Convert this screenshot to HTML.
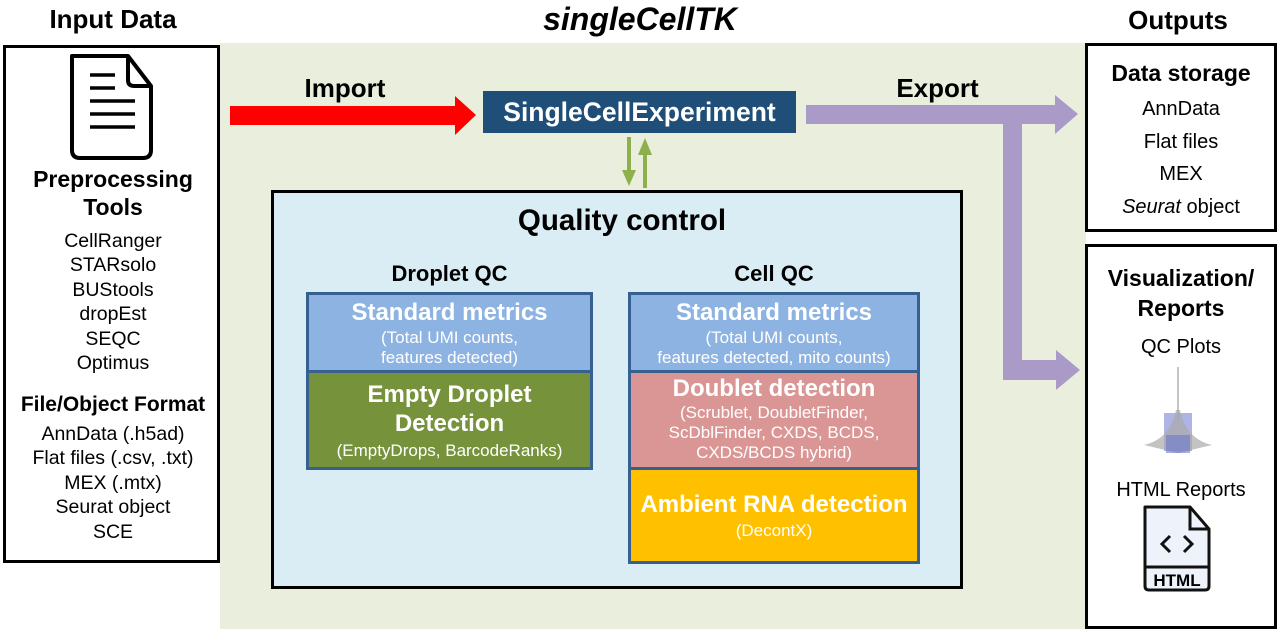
<!DOCTYPE html>
<html><head><meta charset="utf-8"><style>
body{margin:0;width:1280px;height:639px;background:#fff;position:relative;overflow:hidden;font-family:"Liberation Sans",Arial,sans-serif;}
.a{position:absolute;}
.t{position:absolute;text-align:center;white-space:nowrap;}
.b{font-weight:bold;}
.box{position:absolute;box-sizing:border-box;}
.w{color:#fff;}
</style></head><body>
<div class="a" style="left:220px;top:43px;width:866px;height:586px;background:#e9efdc"></div>

<div class="t b" style="left:3px;width:220px;top:4px;font-size:26px">Input Data</div>
<div class="t b" style="left:440px;width:400px;top:1px;font-size:32px;font-style:italic">singleCellTK</div>
<div class="t b" style="left:1082px;width:192px;top:5px;font-size:26px">Outputs</div>

<!-- input box -->
<div class="box" style="left:3px;top:45px;width:217px;height:518px;border:3px solid #000;background:#fff"></div>
<svg class="a" style="left:65px;top:50px" width="110" height="115">
<path d="M7 6 H63 L86 36 V100 Q86 108 78 108 H15 Q7 108 7 100 Z" fill="none" stroke="#000" stroke-width="4" stroke-linejoin="round"/>
<path d="M63 6 V30 Q63 36 69 36 H86" fill="none" stroke="#000" stroke-width="4"/>
<g stroke="#000" stroke-width="3.5"><line x1="25" y1="25" x2="50" y2="25"/><line x1="25" y1="38" x2="50" y2="38"/><line x1="25" y1="51" x2="70" y2="51"/><line x1="25" y1="64" x2="70" y2="64"/><line x1="25" y1="77" x2="70" y2="77"/></g>
</svg>
<div class="t b" style="left:3px;width:220px;top:165px;font-size:23px;line-height:28px">Preprocessing<br>Tools</div>
<div class="t" style="left:3px;width:220px;top:229px;font-size:19.5px;line-height:24.4px">CellRanger<br>STARsolo<br>BUStools<br>dropEst<br>SEQC<br>Optimus</div>
<div class="t b" style="left:3px;width:220px;top:393px;font-size:21px">File/Object Format</div>
<div class="t" style="left:3px;width:220px;top:422px;font-size:19.5px;line-height:24.4px">AnnData (.h5ad)<br>Flat files (.csv, .txt)<br>MEX (.mtx)<br>Seurat object<br>SCE</div>

<svg class="a" style="left:0;top:0" width="1280" height="639">
<polygon points="230,106 455,106 455,96 476,115 455,135 455,125 230,125" fill="#f00"/>
<g fill="#a99ac8">
<polygon points="806,105 1055,105 1055,95 1078,114 1055,134 1055,124 806,124"/>
<rect x="1003" y="105" width="19" height="275"/>
<polygon points="1003,360 1056,360 1056,350 1080,370 1056,390 1056,380 1003,380"/>
</g>
<g fill="#8db04c">
<rect x="627" y="137" width="4" height="36"/><polygon points="622,170 636,170 629,186"/>
<rect x="643" y="152" width="4" height="36"/><polygon points="638,155 652,155 645,138"/>
</g>
</svg>
<div class="t b" style="left:290px;width:110px;top:73px;font-size:26px">Import</div>
<div class="t b" style="left:880px;width:115px;top:73px;font-size:26px">Export</div>
<div class="box t b w" style="left:483px;top:91px;width:313px;height:42px;background:#1f4e79;font-size:26.5px;line-height:42px">SingleCellExperiment</div>

<!-- QC -->
<div class="box" style="left:271px;top:190px;width:692px;height:399px;border:3px solid #000;background:#daedf4"></div>
<div class="t b" style="left:276px;width:692px;top:204px;font-size:29.5px">Quality control</div>
<div class="t b" style="left:306px;width:287px;top:261px;font-size:22px">Droplet QC</div>
<div class="t b" style="left:628px;width:292px;top:261px;font-size:22px">Cell QC</div>

<div class="box w" style="left:306px;top:292px;width:287px;height:178px;border:3px solid #36608f;background:#76933c"></div>
<div class="box t w" style="left:309px;top:295px;width:281px;height:78px;background:#8db3e2;border-bottom:3px solid #36608f">
<div class="b" style="font-size:24px;margin-top:4px">Standard metrics</div>
<div style="font-size:17px;line-height:20px;margin-top:1px">(Total UMI counts,<br>features detected)</div></div>
<div class="t w" style="left:309px;top:380px;width:281px">
<div class="b" style="font-size:24px;line-height:29px">Empty Droplet<br>Detection</div>
<div style="font-size:17px;margin-top:3px">(EmptyDrops, BarcodeRanks)</div></div>

<div class="box" style="left:628px;top:292px;width:292px;height:272px;border:3px solid #36608f;background:#ffc000"></div>
<div class="box t w" style="left:631px;top:295px;width:286px;height:78px;background:#8db3e2;border-bottom:3px solid #36608f">
<div class="b" style="font-size:24px;margin-top:4px">Standard metrics</div>
<div style="font-size:17px;line-height:20px;margin-top:1px">(Total UMI counts,<br>features detected, mito counts)</div></div>
<div class="box t w" style="left:631px;top:373px;width:286px;height:97px;background:#da9694;border-bottom:3px solid #36608f">
<div class="b" style="font-size:24px;margin-top:2px">Doublet detection</div>
<div style="font-size:17px;line-height:20px;margin-top:0px">(Scrublet, DoubletFinder,<br>ScDblFinder, CXDS, BCDS,<br>CXDS/BCDS hybrid)</div></div>
<div class="t w" style="left:631px;top:491px;width:286px">
<div class="b" style="font-size:24px">Ambient RNA detection</div>
<div style="font-size:17px;margin-top:2px">(DecontX)</div></div>

<!-- outputs -->
<div class="box" style="left:1085px;top:43px;width:192px;height:189px;border:3px solid #000;background:#fff"></div>
<div class="t b" style="left:1085px;width:192px;top:60px;font-size:23px">Data storage</div>
<div class="t" style="left:1085px;width:192px;top:93px;font-size:20px;line-height:32.5px">AnnData<br>Flat files<br>MEX<br><i>Seurat</i> object</div>

<div class="box" style="left:1085px;top:244px;width:192px;height:385px;border:3px solid #000;background:#fff"></div>
<div class="t b" style="left:1085px;width:192px;top:263px;font-size:23px;line-height:30px">Visualization/<br>Reports</div>
<div class="t" style="left:1085px;width:192px;top:336px;font-size:20px">QC Plots</div>
<svg class="a" style="left:1140px;top:365px" width="80" height="95">
<line x1="38" y1="2" x2="38" y2="60" stroke="#888" stroke-width="1"/>
<rect x="24" y="48" width="28" height="38" fill="#9aa3dd" opacity="0.8"/>
<path d="M4 80 Q30 74 36 45 L40 45 Q46 74 72 80 Q46 86 40 88 L36 88 Q30 86 4 80Z" fill="#aaa" opacity="0.7"/>
<rect x="26" y="70" width="24" height="18" fill="#6d78cc" opacity="0.6"/>
</svg>
<div class="t" style="left:1085px;width:192px;top:479px;font-size:20px">HTML Reports</div>
<svg class="a" style="left:1140px;top:504px" width="74" height="90">
<path d="M5 3 H50 L69 25 V82 Q69 86 65 86 H9 Q5 86 5 82 Z" fill="#eef3fb" stroke="#111" stroke-width="3" stroke-linejoin="round"/>
<path d="M50 3 V25 H69" fill="none" stroke="#111" stroke-width="3"/>
<line x1="5" y1="63" x2="69" y2="63" stroke="#111" stroke-width="3"/>
<path d="M30 32 L22 40 L30 48 M44 32 L52 40 L44 48" fill="none" stroke="#111" stroke-width="3"/>
<text x="37" y="82" text-anchor="middle" font-family="Liberation Sans" font-weight="bold" font-size="17">HTML</text>
</svg>
</body></html>
